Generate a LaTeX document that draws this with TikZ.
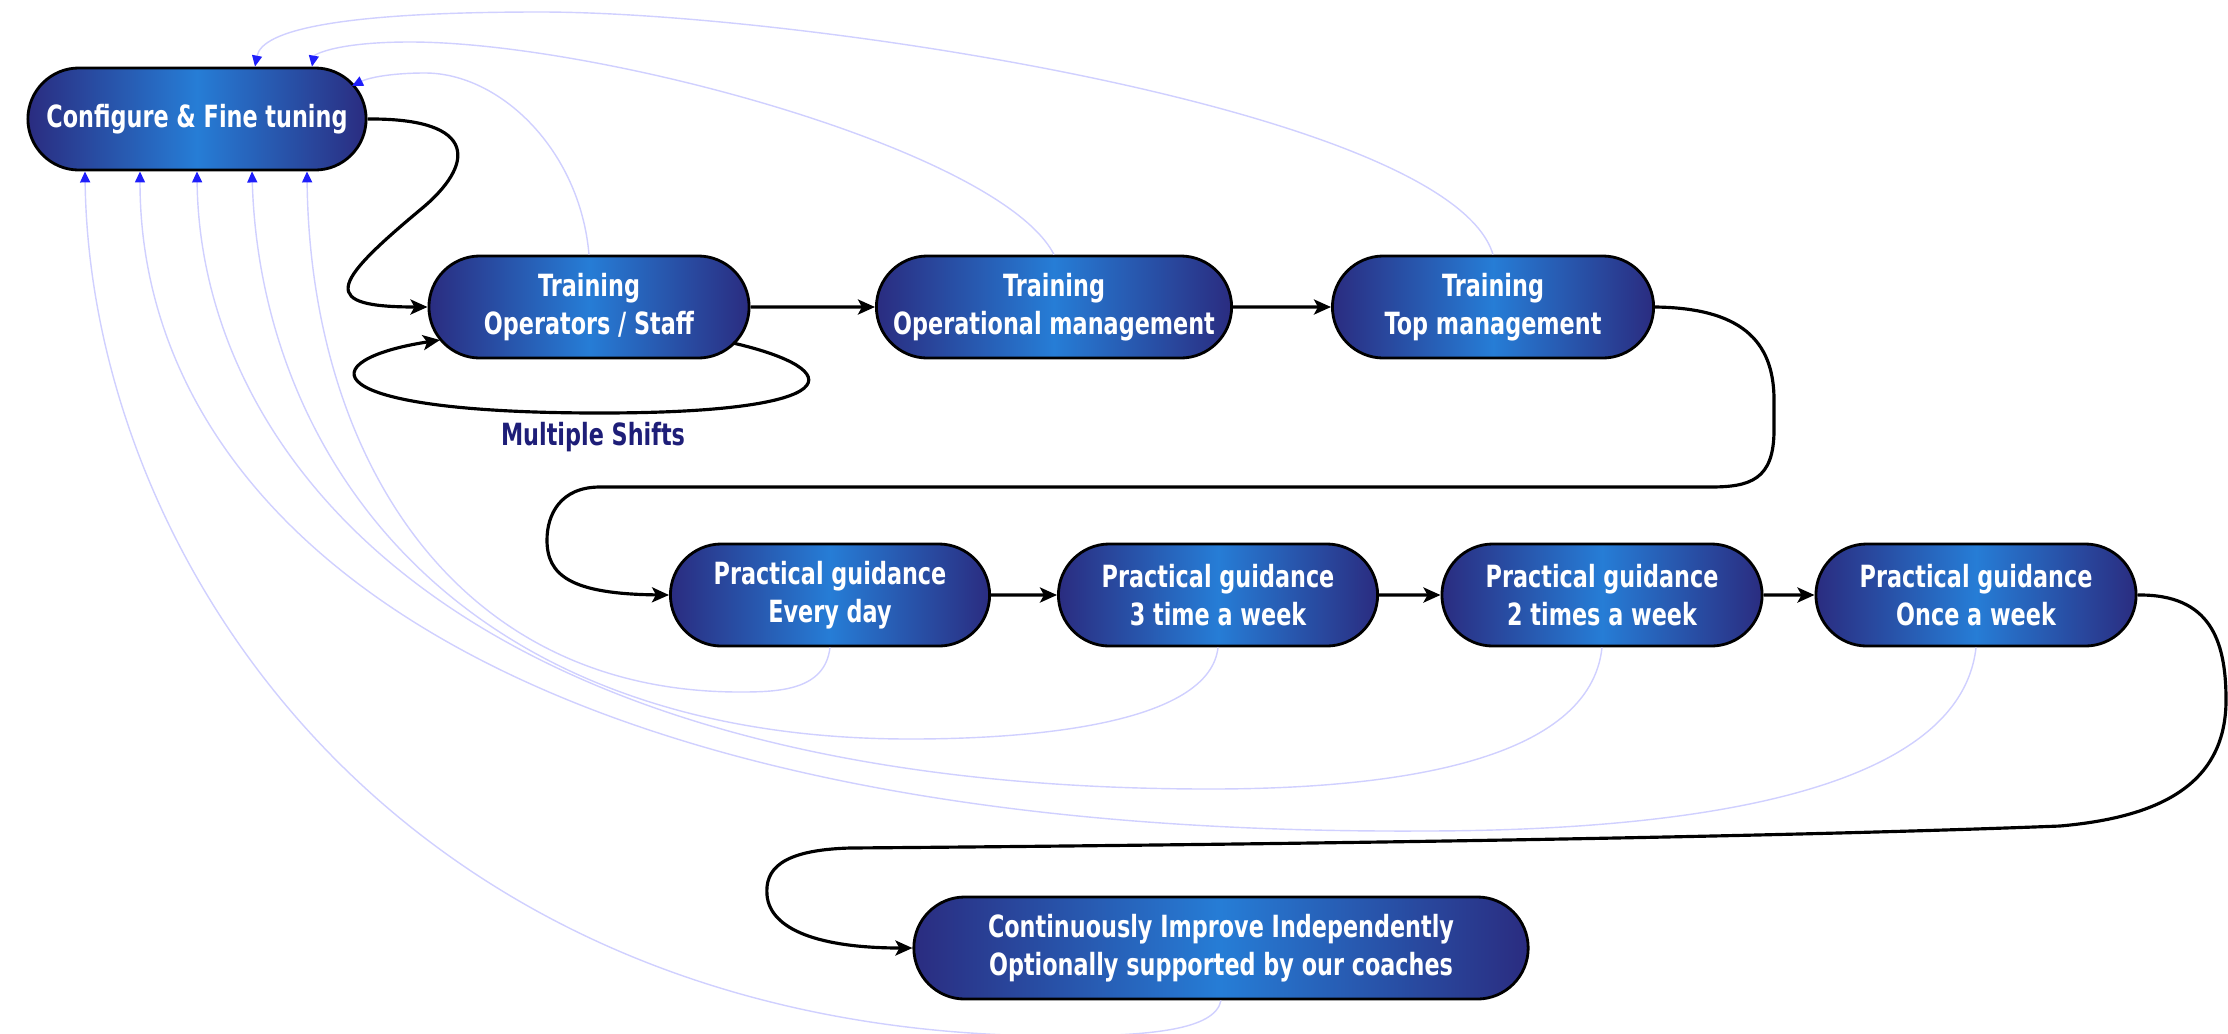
\documentclass[tikz,border=0pt]{standalone}
\usepackage{fontspec}
\setmainfont{DejaVu Sans}[FakeStretch=0.73]
\usetikzlibrary{shapes.misc,arrows.meta,calc}
\definecolor{navy}{RGB}{42,44,128}
\definecolor{midblue}{RGB}{38,125,214}
\definecolor{shiftblue}{RGB}{30,30,120}
\definecolor{backline}{RGB}{208,208,255}
\definecolor{backtip}{RGB}{30,30,250}

\begin{document}
\begin{tikzpicture}[x=0.01cm,y=-0.01cm,
    flow/.style={line width=0.9pt,-{Stealth[length=0.17cm,width=0.15cm,inset=0.04cm]}},
    back/.style={draw=backline,line width=0.4pt,-{Triangle[length=0.11cm,width=0.1cm,color=backtip]}}]

      \useasboundingbox (0,0) rectangle (2228,1033);

      \begin{scope}[every node/.style={rounded rectangle, draw, line width=0.8pt,
          left color=navy, right color=navy, middle color=midblue, text=white,
          align=center, inner sep=0pt, minimum height=1.02cm,
          font=\fontsize{8.7}{10.8}\selectfont\bfseries}]
        \node[minimum width=3.38cm] (1) at (197,119) {Configure \& Fine tuning};
        \node[minimum width=3.2cm]  (2) at (589,307) {Training\\Operators / Staff};
        \node[minimum width=3.55cm] (3) at (1054,307) {Training\\Operational management};
        \node[minimum width=3.21cm] (4) at (1493,307) {Training\\Top management};
        \node[minimum width=3.19cm] (5) at (830,595) {Practical guidance\\Every day};
        \node[minimum width=3.19cm] (6) at (1218,595) {Practical guidance\\3 time a week};
        \node[minimum width=3.2cm]  (7) at (1602,595) {Practical guidance\\2 times a week};
        \node[minimum width=3.2cm]  (8) at (1976,595) {Practical guidance\\Once a week};
        \node[minimum width=6.14cm] (9) at (1221,948)
          {Continuously Improve Independently\\Optionally supported by our coaches};
      \end{scope}

      \node[text=shiftblue, font=\fontsize{8.7}{10.8}\selectfont\bfseries] (shifts) at (593,437) {Multiple Shifts};

      \draw[back] (4.north) .. controls (1450,110) and (800,12) .. (540,12)
        .. controls (340,12) and (262,30) .. ($(1.north)+(58,0)$);
      \draw[back] (3.north) .. controls (1000,150) and (600,42) .. (410,42)
        .. controls (335,42) and (314,55) .. ($(1.north)+(115,0)$);
      \draw[back] (2.north) .. controls (580,150) and (500,73) .. (425,73)
        .. controls (390,73) and (368,78) .. ($(1.center)+(155,-33)$);

      \draw[back] (5.south) .. controls (825,690) and (780,692) .. (740,692)
        .. controls (450,692) and (310,450) .. ($(1.south)+(110,0)$);
      \draw[back] (6.south) .. controls (1210,720) and (1050,739) .. (910,739)
        .. controls (450,739) and (260,450) .. ($(1.south)+(55,0)$);
      \draw[back] (7.south) .. controls (1590,760) and (1400,789) .. (1210,789)
        .. controls (450,789) and (200,450) .. ($(1.south)+(0,0)$);
      \draw[back] (8.south) .. controls (1960,790) and (1700,831) .. (1420,831)
        .. controls (500,835) and (140,520) .. ($(1.south)+(-57,0)$);
      \draw[back] (9.south) .. controls (1215,1030) and (1150,1036) .. (1060,1036)
        .. controls (400,1036) and (90,560) .. ($(1.south)+(-112,0)$);

      \begin{scope}[every edge/.style={draw, flow}]
        \path (2) edge (3);
        \path (3) edge (4);
        \path (5) edge (6);
        \path (6) edge (7);
        \path (7) edge (8);
      \end{scope}

      \draw[flow] (1.east) .. controls (480,118) and (475,165) .. (420,210)
        .. controls (330,285) and (320,307) .. (2.west);
      \draw[flow] ($(2.center)+(144,36)$) .. controls (850,370) and (850,413) .. (600,413)
        .. controls (310,413) and (310,360) .. ($(2.center)+(-149,33)$);
      \draw[flow] (4.east) .. controls (1740,308) and (1774,340) .. (1774,400) -- (1774,430)
        .. controls (1774,480) and (1750,487) .. (1710,487) -- (600,487)
        .. controls (560,487) and (547,515) .. (547,540)
        .. controls (547,575) and (570,594) .. (5.west);
      \draw[flow] (8.east) .. controls (2210,594) and (2226,640) .. (2226,700)
        .. controls (2226,790) and (2150,818) .. (2060,826)
        .. controls (1700,840) and (1100,846) .. (850,848)
        .. controls (780,850) and (765,870) .. (767,895)
        .. controls (770,930) and (820,948) .. (9.west);

    \end{tikzpicture}
\end{document}
